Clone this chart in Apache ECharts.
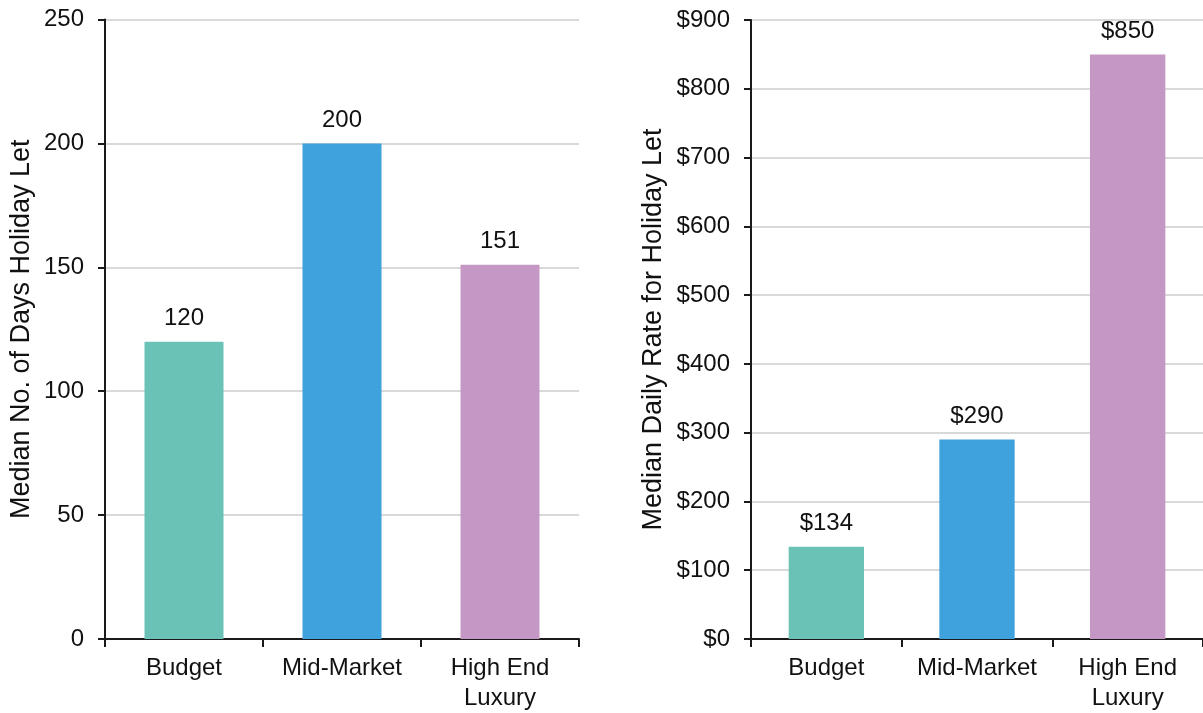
<!DOCTYPE html>
<html>
<head>
<meta charset="utf-8">
<style>
html,body{margin:0;padding:0;background:#fff;}
#c{width:1203px;height:713px;}
</style>
<script src="https://cdn.jsdelivr.net/npm/echarts@6/dist/echarts.min.js"></script>
</head>
<body>
<div id="c"></div>
<script>
const categories = ['Budget', 'Mid-Market', 'High End\nLuxury'];
const daysValues = [120, 200, 151];
const rateValues = [134, 290, 850];
const barColors = ['#69C2B5', '#3FA2DD', '#C597C4'];
const daysTitle = 'Median No. of Days Holiday Let';
const rateTitle = 'Median Daily Rate for Holiday Let';

const FONT = 'Liberation Sans, Arial, sans-serif';
const TXT = '#111';
const AX = '#1a1a1a';

function xAxis(gi){
  return {
    type:'category', gridIndex:gi, data:categories,
    axisLine:{lineStyle:{color:AX,width:2}},
    axisTick:{show:true,interval:0,length:8,lineStyle:{color:AX,width:2}},
    axisLabel:{interval:0,hideOverlap:false,color:TXT,fontSize:24,fontFamily:FONT,margin:14,lineHeight:30}
  };
}
function yAxis(gi,max,interval,fmt,name,gap){
  return {
    type:'value', gridIndex:gi, min:0, max:max, interval:interval,
    name:name, nameLocation:'middle', nameGap:gap, nameRotate:90,
    nameTextStyle:{color:TXT,fontSize:27,fontFamily:FONT},
    axisLine:{show:true,lineStyle:{color:AX,width:2}},
    axisTick:{show:true,length:7,lineStyle:{color:AX,width:2}},
    axisLabel:{color:TXT,fontSize:24,fontFamily:FONT,margin:21,formatter:fmt},
    splitLine:{show:true,lineStyle:{color:'#d9d9d9',width:2}}
  };
}
function series(gi,vals,fmt){
  return {
    type:'bar', xAxisIndex:gi, yAxisIndex:gi, barWidth:'50%',
    data: vals.map((v,i)=>({value:v,itemStyle:{color:barColors[i]}})),
    label:{show:true,position:'top',distance:11,color:TXT,fontSize:24,fontFamily:FONT,formatter:fmt},
    silent:true
  };
}
const chart = echarts.init(document.getElementById('c'));
chart.setOption({
  animation:false,
  backgroundColor:'#fff',
  grid:[
    {left:105,right:624,top:19.5,bottom:72.5},
    {left:751,right:0,top:20,bottom:72.5}
  ],
  xAxis:[xAxis(0),xAxis(1)],
  yAxis:[
    yAxis(0,250,50,'{value}',daysTitle,70),
    yAxis(1,900,100,'${value}',rateTitle,84)
  ],
  series:[
    series(0,daysValues,p=>String(p.value)),
    series(1,rateValues,p=>'$'+p.value)
  ]
});
</script>
</body>
</html>
